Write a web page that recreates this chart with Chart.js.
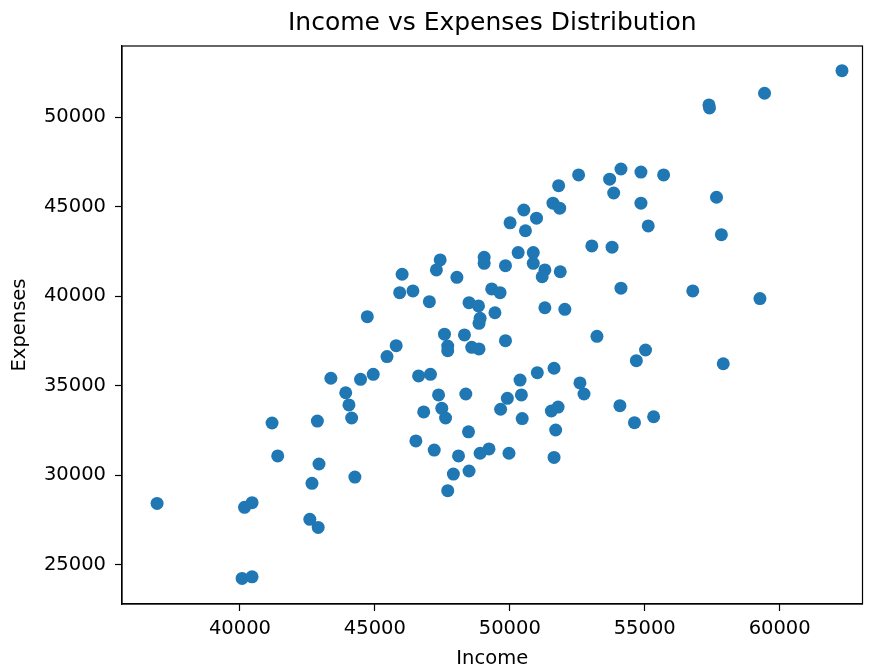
<!DOCTYPE html>
<html>
<head>
<meta charset="utf-8">
<title>Income vs Expenses Distribution</title>
<script src="https://cdn.jsdelivr.net/npm/chart.js@4.4.0/dist/chart.umd.min.js"></script>
<style>
  html, body { margin: 0; padding: 0; background: #fff; }
  #kapsayici { width: 869px; height: 666px; }
</style>
</head>
<body>
<div id="kapsayici"><canvas id="dagilimChart" width="869" height="666"></canvas></div>
<script>
/*VERILER*/
var gelirler = [
  62310, 59440, 57380, 57400, 52550, 51810, 51600, 51850, 50520, 50990,
  50010, 50580, 53700, 54120, 54860, 55700, 53850, 54860, 57660, 55130,
  57840, 53040, 53790, 54120, 56780, 59270, 53230, 55030, 54690, 57910,
  52600, 52750, 54080, 54620, 55330, 50310, 50870, 50870, 51300, 51200,
  51870, 49840, 49050, 49050, 47420, 47280, 46010, 48040, 45920, 46410,
  47020, 49330, 49640, 48490, 48840, 49450, 48900, 48860, 51300, 52040,
  44720, 47580, 47700, 47700, 48320, 48590, 48860, 49840, 45790, 45450,
  44470, 44940, 46620, 47060, 43920, 44040, 44140, 47360, 48370, 50380,
  51020, 51640, 50430, 49910, 49660, 46810, 47480, 47620, 51540, 51790,
  50460, 48470, 46520, 47200, 48100, 48900, 49230, 49970, 51700, 51640,
  44260, 47910, 48490, 47700, 36930, 40170, 40450, 40080, 40450, 41190,
  41400, 42870, 42930, 42670, 42590, 42900, 43370
];
var giderler = [
  52600, 51340, 50690, 50520, 46780, 46180, 45200, 44920, 44820, 44360,
  44100, 43660, 46540, 47110, 46940, 46780, 45770, 45200, 45530, 43930,
  43440, 42810, 42740, 40450, 40300, 39870, 37760, 37000, 36400, 36230,
  35160, 34540, 33890, 32940, 33270, 42440, 42440, 41840, 41470, 41090,
  41370, 41710, 42180, 41840, 42030, 41470, 41230, 41060, 40200, 40300,
  39700, 40410, 40200, 39640, 39460, 39080, 38770, 38490, 39360, 39270,
  38860, 37880, 37220, 36960, 37840, 37150, 37060, 37520, 37240, 36630,
  35360, 35640, 35550, 35640, 34610, 33930, 33200, 34490, 34540, 35320,
  35730, 35980, 34490, 34300, 33690, 33540, 33740, 33200, 33590, 33810,
  33170, 32430, 31920, 31410, 31080, 31230, 31470, 31230, 32530, 31000,
  29900, 30070, 30240, 29140, 28430, 28210, 28470, 24240, 24330, 32920,
  31080, 33030, 30630, 29550, 27540, 27090, 35420
];
var xEtiketleri = [40000, 45000, 50000, 55000, 60000];
var yEtiketleri = [25000, 30000, 35000, 40000, 45000, 50000];
/*VERILER*/

Chart.defaults.font.family = "'DejaVu Sans', sans-serif";
Chart.defaults.color = "#000";

var noktalar = [];
for (var i = 0; i < gelirler.length; i++) {
  noktalar.push({x: gelirler[i], y: giderler[i]});
}

/*CERCEVE CIZIMI*/
var cercevePlugin = {
  id: "cerceve",
  afterDatasetsDraw: function (chart) {
    var a = chart.chartArea;
    var ctx = chart.ctx;
    ctx.save();
    ctx.strokeStyle = "#000";
    ctx.lineWidth = 1.2;
    ctx.strokeRect(a.left, a.top, a.right - a.left, a.bottom - a.top);
    ctx.restore();
  }
};

var ctx = document.getElementById("dagilimChart");
var myChart = new Chart(ctx, {
  type: "scatter",
  data: {
    datasets: [{
      label: "Expenses",
      data: noktalar,
      backgroundColor: "#1f77b4",
      borderWidth: 0,
      pointRadius: 6.5,
      pointHoverRadius: 6.5
    }]
  },
  options: {
    responsive: false,
    animation: false,
    devicePixelRatio: 1,
    layout: { padding: { left: 0, right: 3, top: 0, bottom: 0 } },
    plugins: {
      legend: { display: false },
      tooltip: { enabled: false },
      title: {
        display: true,
        fullSize: false,
        text: "Income vs Expenses Distribution",
        color: "#000",
        font: { size: 25, weight: "normal", lineHeight: 1.2 },
        padding: { top: 8, bottom: 8 }
      }
    },
    scales: {
      x: {
        type: "linear",
        min: 35630,
        max: 63070,
        afterBuildTicks: function (scale) {
          scale.ticks = xEtiketleri.map(function (v) { return {value: v}; });
        },
        afterFit: function (scale) { scale.height = 62; },
        grid: { drawOnChartArea: false, drawTicks: true, tickLength: 7, tickColor: "#000", tickWidth: 1.2 },
        border: { display: true, color: "#000", width: 1.2 },
        ticks: {
          padding: 6,
          maxRotation: 0,
          font: { size: 19.5 },
          callback: function (v) { return String(v); }
        },
        title: {
          display: true,
          text: "Income",
          font: { size: 19.5, lineHeight: 1 },
          padding: { top: 0, bottom: -3 }
        }
      },
      y: {
        type: "linear",
        min: 22810,
        max: 53980,
        afterBuildTicks: function (scale) {
          scale.ticks = yEtiketleri.map(function (v) { return {value: v}; });
        },
        afterFit: function (scale) { scale.width = 122; },
        grid: { drawOnChartArea: false, drawTicks: true, tickLength: 7, tickColor: "#000", tickWidth: 1.2 },
        border: { display: true, color: "#000", width: 1.2 },
        ticks: {
          padding: 9,
          font: { size: 19.5 },
          callback: function (v) { return String(v); }
        },
        title: {
          display: true,
          text: "Expenses",
          font: { size: 19.5, lineHeight: 1 },
          padding: { top: 10, bottom: 0 }
        }
      }
    }
  },
  plugins: [cercevePlugin]
});
</script>
</body>
</html>
